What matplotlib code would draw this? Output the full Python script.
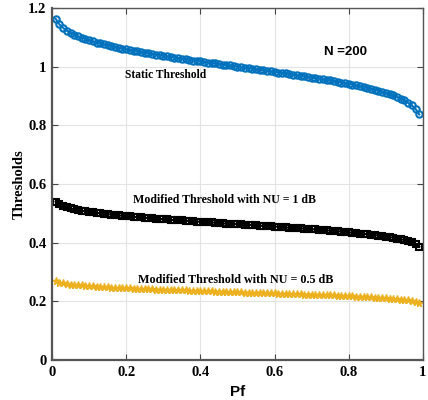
import matplotlib
matplotlib.use("Agg")
import matplotlib.pyplot as plt
import numpy as np

# False-alarm probabilities
pf = np.round(np.arange(1, 100) / 100, 2)

static_thr = [
    1.163, 1.144, 1.132, 1.123, 1.115, 1.109, 1.103, 1.098, 1.094, 1.090,
    1.086, 1.082, 1.079, 1.076, 1.073, 1.070, 1.067, 1.064, 1.061, 1.059,
    1.056, 1.054, 1.052, 1.049, 1.047, 1.045, 1.043, 1.041, 1.039, 1.037,
    1.035, 1.033, 1.031, 1.029, 1.027, 1.025, 1.023, 1.021, 1.020, 1.018,
    1.016, 1.014, 1.012, 1.011, 1.009, 1.007, 1.005, 1.004, 1.002, 1.000,
    0.998, 0.996, 0.995, 0.993, 0.991, 0.989, 0.988, 0.986, 0.984, 0.982,
    0.980, 0.979, 0.977, 0.975, 0.973, 0.971, 0.969, 0.967, 0.965, 0.963,
    0.961, 0.959, 0.957, 0.955, 0.953, 0.951, 0.948, 0.946, 0.944, 0.941,
    0.939, 0.936, 0.933, 0.930, 0.927, 0.924, 0.921, 0.918, 0.914, 0.910,
    0.906, 0.902, 0.897, 0.891, 0.885, 0.877, 0.868, 0.856, 0.837,
]

mod_thr_1db = [
    0.540, 0.531, 0.525, 0.521, 0.517, 0.514, 0.512, 0.509, 0.507, 0.505,
    0.504, 0.502, 0.500, 0.499, 0.497, 0.496, 0.495, 0.493, 0.492, 0.491,
    0.490, 0.488, 0.487, 0.486, 0.485, 0.484, 0.483, 0.482, 0.481, 0.480,
    0.479, 0.478, 0.477, 0.477, 0.476, 0.475, 0.474, 0.473, 0.472, 0.471,
    0.470, 0.470, 0.469, 0.468, 0.467, 0.466, 0.465, 0.465, 0.464, 0.463,
    0.462, 0.461, 0.461, 0.460, 0.459, 0.458, 0.457, 0.456, 0.456, 0.455,
    0.454, 0.453, 0.452, 0.451, 0.450, 0.449, 0.449, 0.448, 0.447, 0.446,
    0.445, 0.444, 0.443, 0.442, 0.441, 0.440, 0.439, 0.438, 0.436, 0.435,
    0.434, 0.433, 0.431, 0.430, 0.429, 0.427, 0.426, 0.424, 0.422, 0.421,
    0.419, 0.417, 0.414, 0.412, 0.409, 0.405, 0.401, 0.395, 0.386,
]

mod_thr_05db = [
    0.268, 0.264, 0.261, 0.259, 0.257, 0.256, 0.255, 0.254, 0.253, 0.252,
    0.251, 0.250, 0.249, 0.248, 0.248, 0.247, 0.246, 0.246, 0.245, 0.244,
    0.244, 0.243, 0.243, 0.242, 0.242, 0.241, 0.241, 0.240, 0.240, 0.239,
    0.239, 0.239, 0.238, 0.238, 0.237, 0.237, 0.236, 0.236, 0.236, 0.235,
    0.235, 0.234, 0.234, 0.233, 0.233, 0.233, 0.232, 0.232, 0.231, 0.231,
    0.231, 0.230, 0.230, 0.229, 0.229, 0.229, 0.228, 0.228, 0.227, 0.227,
    0.226, 0.226, 0.226, 0.225, 0.225, 0.224, 0.224, 0.223, 0.223, 0.223,
    0.222, 0.222, 0.221, 0.221, 0.220, 0.220, 0.219, 0.219, 0.218, 0.218,
    0.217, 0.216, 0.216, 0.215, 0.214, 0.214, 0.213, 0.212, 0.211, 0.210,
    0.209, 0.208, 0.207, 0.206, 0.205, 0.203, 0.201, 0.198, 0.194,
]

x_ticks = [0, 0.2, 0.4, 0.6, 0.8, 1]
x_ticklabels = ["0", "0.2", "0.4", "0.6", "0.8", "1"]
y_ticks = [0, 0.2, 0.4, 0.6, 0.8, 1, 1.2]
y_ticklabels = ["0", "0.2", "0.4", "0.6", "0.8", "1", "1.2"]

serif = "Liberation Serif"

fig = plt.figure(figsize=(4.28, 4.0), dpi=100)
ax = fig.add_axes([0.1215, 0.1, 0.8667, 0.88])

ax.plot(pf, static_thr, "-o", color="#0072BD", markersize=4.6,
        markerfacecolor="none", markeredgewidth=1.5, linewidth=1.5)
ax.plot(pf, mod_thr_1db, "-s", color="black", markersize=4.0,
        markerfacecolor="none", markeredgewidth=1.5, linewidth=1.5)
ax.plot(pf, mod_thr_05db, "-*", color="#EDB120", markersize=5.5,
        markeredgewidth=1.0, linewidth=1.5)

ax.set_xlim(0, 1)
ax.set_ylim(0, 1.2)
ax.set_xticks(x_ticks)
ax.set_xticklabels(x_ticklabels, fontfamily=serif, fontweight="bold", fontsize=10.5)
ax.set_yticks(y_ticks)
ax.set_yticklabels(y_ticklabels, fontfamily=serif, fontweight="bold", fontsize=10.5)
ax.tick_params(direction="in", top=True, right=True, length=4, width=0.8,
               color="#444444", pad=4)
ax.grid(True, color="#e3e3e3", linewidth=0.8)
for side in ax.spines.values():
    side.set_color("#555555")
    side.set_linewidth(1.0)
ax.spines["left"].set_linewidth(1.6)
ax.spines["bottom"].set_linewidth(1.6)

ax.set_xlabel("Pf", fontfamily="Liberation Sans", fontweight="bold",
              fontsize=11, labelpad=5)
ax.set_ylabel("Thresholds", fontfamily=serif, fontweight="bold",
              fontsize=10.5, labelpad=2)

ax.text(0.305, 0.972, "Static Threshold", fontfamily=serif, fontweight="bold",
        fontsize=8.3, ha="center", va="center")
ax.text(0.79, 1.05, "N =200", fontfamily="Liberation Sans", fontweight="bold",
        fontsize=9.5, ha="center", va="center")
ax.text(0.464, 0.545, "Modified Threshold with NU = 1 dB", fontfamily=serif,
        fontweight="bold", fontsize=8.6, ha="center", va="center")
ax.text(0.495, 0.273, "Modified Threshold with NU = 0.5 dB", fontfamily=serif,
        fontweight="bold", fontsize=8.7, ha="center", va="center")

fig.savefig("out.png", dpi=100)
